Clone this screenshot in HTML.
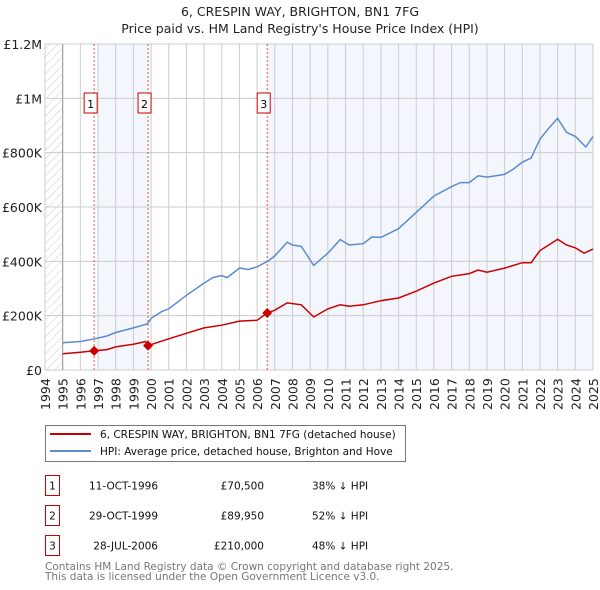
<!DOCTYPE html>
<html><head><meta charset="utf-8"><style>
body{margin:0;background:#fff;}
svg{display:block;font-family:"DejaVu Sans","Liberation Sans",sans-serif;}
</style></head><body>
<svg id="c" width="600" height="590"></svg>
<script>
const hpiYears=[1995,1996,1996.8,1997.5,1998,1999,1999.8,2000,2000.6,2001,2002,2003,2003.5,2004,2004.3,2005,2005.5,2006,2006.6,2007,2007.7,2008,2008.5,2009.2,2010,2010.7,2011.2,2012,2012.5,2013,2014,2015,2016,2017,2017.5,2018,2018.5,2019,2020,2020.5,2021,2021.5,2022,2022.5,2023,2023.5,2024,2024.6,2025];
const hpiValues=[100,105,115,125,138,155,170,190,215,225,275,320,340,348,340,375,370,380,400,420,470,460,455,385,430,480,460,465,490,488,520,580,640,675,690,690,715,710,720,740,765,780,850,890,926,875,860,821,859];
const ppYears=[1995,1996,1996.78,1997.5,1998,1999,1999.7,1999.83,2000.3,2001,2002,2003,2004,2005,2006,2006.57,2007,2007.7,2008.5,2009.2,2010,2010.7,2011.2,2012,2013,2014,2015,2016,2017,2018,2018.5,2019,2020,2021,2021.5,2022,2022.5,2023,2023.5,2024,2024.5,2025];
const ppValues=[60,65,70.5,75,85,95,105,89.95,100,115,135,155,165,180,183,210,220,247,240,195,225,240,235,240,255,265,290,320,345,355,368,360,375,395,395,440,460,481,460,450,430,445];
const saleYears=[1996.78,1999.83,2006.57];
const saleValues=[70.5,89.95,210];
const saleLabels=["1","2","3"];
const yTicks=[0,200,400,600,800,1000,1200];
const yTickLabels=["£0","£200K","£400K","£600K","£800K","£1M","£1.2M"];
const xYears=[1994,1995,1996,1997,1998,1999,2000,2001,2002,2003,2004,2005,2006,2007,2008,2009,2010,2011,2012,2013,2014,2015,2016,2017,2018,2019,2020,2021,2022,2023,2024,2025];

const L=45,R=593,T=44,B=370;
const x=v=>L+(v-1994)*(R-L)/31;
const y=v=>B-v*(B-T)/1200;
const svg=document.getElementById('c');
const NS='http://www.w3.org/2000/svg';
function mk(tag,attrs,parent){const e=document.createElementNS(NS,tag);for(const k in attrs)e.setAttribute(k,attrs[k]);(parent||svg).appendChild(e);return e;}
function txt(s,attrs,parent){const e=mk('text',attrs,parent);e.textContent=s;return e;}

const defs=mk('defs',{});
const pat=mk('pattern',{id:'h',width:6,height:6,patternUnits:'userSpaceOnUse',patternTransform:'rotate(45)'},defs);
mk('line',{x1:0,y1:0,x2:0,y2:6,stroke:'#ccc','stroke-width':1},pat);

let r=mk('rect',{x:L,y:T,width:x(1995)-L,height:B-T,fill:'url(#h)'});

r=mk('rect',{x:x(1997),y:T,width:x(saleYears[1])-x(1997),height:B-T,fill:'#f3f6fd'});

r=mk('rect',{x:x(saleYears[2]),y:T,width:x(2025)-x(saleYears[2]),height:B-T,fill:'#f3f6fd'});


const grid=mk('g',{stroke:'#ccc','stroke-width':1});

xYears.forEach(v=>mk('line',{x1:x(v),x2:x(v),y1:T,y2:B},grid));
yTicks.forEach(v=>mk('line',{x1:L,x2:R,y1:y(v),y2:y(v)},grid));
mk('line',{x1:x(1995),x2:x(1995),y1:T,y2:B,stroke:'#999'});

const yl=mk('g',{'font-size':12.5,'text-anchor':'end',fill:'#222'});

yTicks.forEach((v,i)=>txt(yTickLabels[i],{x:L-3,y:y(v)+5},yl));
const xl=mk('g',{'font-size':12.5,fill:'#222'});

xYears.forEach(v=>txt(String(v),{x:0,y:0,transform:`translate(${x(v)+5},${B+40}) rotate(-90)`},xl));

saleYears.forEach((v,i)=>{
 const l=mk('line',{x1:x(v),x2:x(v),y1:T,y2:B,stroke:'#e05050','stroke-dasharray':'2,2','stroke-width':1});
 
 const g=mk('g',{});
 
 mk('rect',{x:x(v)-10,y:93,width:13,height:20,fill:'#fff',stroke:'#c00'},g);
 txt(saleLabels[i],{x:x(v)-3.5,y:108,'font-size':11,'text-anchor':'middle'},g);
});

function line(xs,vs,color,name){
 const p=mk('path',{d:xs.map((a,i)=>(i?'L':'M')+x(a).toFixed(1)+','+y(vs[i]).toFixed(1)).join(''),fill:'none',stroke:color,'stroke-width':1.5});
 
}
line(hpiYears,hpiValues,'#5b8bd0','hpi-line');
line(ppYears,ppValues,'#cc0000','price-paid-line');
saleYears.forEach((v,i)=>{
 const cx=x(v),cy=y(saleValues[i]);
 const c=mk('polygon',{points:`${cx},${cy-5} ${cx+5},${cy} ${cx},${cy+5} ${cx-5},${cy}`,fill:'#cc0000'});
 
});

const tt=mk('g',{'font-size':12.5,'text-anchor':'middle',fill:'#222'});

txt('6, CRESPIN WAY, BRIGHTON, BN1 7FG',{x:300,y:16},tt);
txt("Price paid vs. HM Land Registry's House Price Index (HPI)",{x:300,y:33},tt);

const lg=mk('g',{'font-size':10.5,fill:'#111'});

mk('rect',{x:45.5,y:425.5,width:360,height:36,fill:'#fff',stroke:'#777'},lg);
mk('line',{x1:50,x2:91,y1:434,y2:434,stroke:'#cc0000','stroke-width':2},lg);
mk('line',{x1:50,x2:91,y1:451,y2:451,stroke:'#5b8bd0','stroke-width':2},lg);
txt('6, CRESPIN WAY, BRIGHTON, BN1 7FG (detached house)',{x:100,y:438},lg);
txt('HPI: Average price, detached house, Brighton and Hove',{x:100,y:455},lg);

const rows=[["11-OCT-1996","£70,500","38% ↓ HPI"],["29-OCT-1999","£89,950","52% ↓ HPI"],["28-JUL-2006","£210,000","48% ↓ HPI"]];
rows.forEach((rw,i)=>{
 const g=mk('g',{'font-size':10.5,fill:'#111'});
 
 const yy=475.5+i*30;
 mk('rect',{x:45.5,y:yy,width:14,height:20,fill:'#fff',stroke:'#c00'},g);
 txt(String(i+1),{x:52.5,y:yy+14,'text-anchor':'middle'},g);
 txt(rw[0],{x:158,y:yy+14,'text-anchor':'end'},g);
 txt(rw[1],{x:264,y:yy+14,'text-anchor':'end'},g);
 txt(rw[2],{x:312,y:yy+14},g);
});
const ft=mk('g',{'font-size':10.5,fill:'#777'});

txt('Contains HM Land Registry data © Crown copyright and database right 2025.',{x:45,y:570},ft);
txt('This data is licensed under the Open Government Licence v3.0.',{x:45,y:580},ft);
</script>
</body></html>
